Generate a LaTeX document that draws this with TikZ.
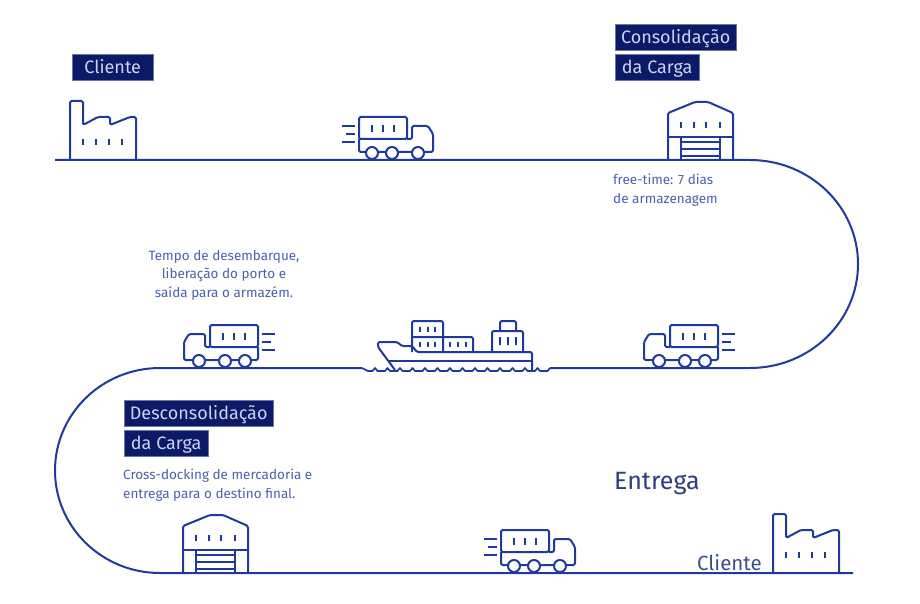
\documentclass[tikz,border=0pt]{standalone}
\usepackage{fontspec}
\setmainfont{Fira Sans}
\usetikzlibrary{calc}
\definecolor{trackblue}{HTML}{1F3A9C}
\definecolor{navybox}{HTML}{0B1A66}
\definecolor{boxtext}{HTML}{CCD4EC}
\definecolor{notetext}{HTML}{4C60AE}
\begin{document}
\begin{tikzpicture}[x=1pt,y=-1pt]
\tikzset{track/.style = {draw=trackblue,line width=2pt,line join=round}}
\tikzset{icon/.style = {draw=trackblue,line width=2pt,line join=round,rounded corners=1.5pt}}
\tikzset{tick/.style = {draw=trackblue,line width=1.8pt}}
\tikzset{tagbox/.style = {fill=navybox,draw=navybox!60,line width=.4pt,text=boxtext,font=\fontsize{18}{18}\selectfont,
  anchor=north west,inner sep=0pt,minimum height=26pt,align=center,text height=13pt,text depth=0pt}}
\tikzset{note/.style = {text=notetext,font=\fontsize{13.5}{18.5}\selectfont,inner sep=0pt}}
% icons, origin on the track at the lower left
\tikzset{factory/.pic = {
  \draw[icon] (0,0) -- (0,-59) -- (13,-59) -- (13,-35) -- (28,-43) -- (40,-43) -- (40,-35) -- (60,-43) -- (66,-43) -- (66,0);
  \foreach \tx in {13,26,39,52}
  \draw[tick] (\tx,-21) -- (\tx,-15);
}}
\tikzset{depot/.pic = {
  \draw[icon] (0,0) -- (0,-47) -- (27,-58) -- (40,-58) -- (65,-47) -- (65,0);
  \draw[tick] (0,-23) -- (65,-23);
  \draw[tick] (13,-23) -- (13,0);
  \draw[tick] (52,-23) -- (52,0);
  \foreach \sy in {-18,-11,-4}
  \draw[tick] (13,\sy) -- (52,\sy);
  \foreach \tx in {13,26,38,52}
  \draw[tick] (\tx,-38) -- (\tx,-32);
}}
\tikzset{truck/.pic = {
  \draw[icon] (0,-21) -- (0,-43) -- (48,-43) -- (48,-21) -- cycle;
  \draw[icon] (0,-21) -- (0,-8) -- (74,-8) -- (74,-26) -- (69,-34) -- (53,-34) -- (53,-21) -- (48,-21);
  \foreach \wx in {13,33,59}
  \draw[icon,fill=white] (\wx,-7) circle (6);
  \foreach \tx in {13,24,35}
  \draw[tick] (\tx,-35) -- (\tx,-28);
  \draw[tick] (-17,-34) -- (-4,-34);
  \draw[tick] (-13,-26) -- (-4,-26);
  \draw[tick] (-17,-18) -- (-4,-18);
}}
\useasboundingbox (0,0) rectangle (920,604);
% track
\coordinate (startA) at (55,160);
\coordinate (bendA) at (750,160);
\coordinate (waveR) at (550,368);
\coordinate (waveL) at (362,368);
\coordinate (bendB) at (160,368);
\coordinate (endB) at (853,573);
\draw[track] (startA) -- (bendA) arc (-90:90:108 and 104) -- (waveR);
\draw[track] (waveL) -- (bendB) arc (270:90:105 and 102.5) -- (endB);
% ship
\draw[icon] (412,352) -- (412,321) -- (443,321) -- (443,352);
\draw[icon] (412,337) -- (473,337) -- (473,352);
\draw[icon] (492,352) -- (492,331) -- (523,331) -- (523,352);
\draw[icon] (500,331) -- (500,321) -- (516,321) -- (516,331);
\draw[icon] (395,370) -- (378,347) -- (378,342) -- (397,342) -- (402,346) -- (412,346) -- (417,352) -- (532,352) -- (532,370);
\draw[tick] (388,361) -- (532,361);
\foreach \tx in {420,428,435}
\draw[tick] (\tx,327) -- (\tx,332);
\foreach \tx in {420,428,435,450,458,466}
\draw[tick] (\tx,342) -- (\tx,347);
\foreach \tx in {500,508,516}
\draw[tick] (\tx,337) -- (\tx,345);
\draw[track,line width=1.7pt] (waveL) to[out=0,in=180] ++(6,3) -- ++(4.5,0) \foreach \wi in {1,...,14} { to[out=0,in=180] ++(2.5,-3) to[out=0,in=180] ++(2.5,3) -- ++(7.5,0) } to[out=0,in=180] (waveR);
% pics
\pic at (70,160) {factory};
\pic at (773,573) {factory};
\pic at (668,160) {depot};
\pic at (183,573) {depot};
\pic at (359,160) {truck};
\pic at (501,573) {truck};
\pic[xscale=-1] at (258,368) {truck};
\pic[xscale=-1] at (718,368) {truck};
% labels
\node[tagbox,minimum width=81pt] (cliente) at (72,54) {Cliente};
\node[tagbox,minimum width=121pt] (consol) at (615,24) {Consolidação};
\node[tagbox,minimum width=84pt] (consolb) at (615,54) {da Carga};
\node[tagbox,minimum width=149pt] (descon) at (124,400) {Desconsolidação};
\node[tagbox,minimum width=84pt] (desconb) at (124,430) {da Carga};
\node[note,anchor=north west,align=left] (freetime) at (613,174) {free-time: 7 dias\\de armazenagem};
\node[note,anchor=north,align=center] (desemb) at (224,250) {Tempo de desembarque,\\liberação do porto e\\saída para o armazém.};
\node[note,anchor=north west,align=left] (cross) at (123,469) {Cross-docking de mercadoria e\\entrega para o destino final.};
\node[inner sep=0pt,anchor=west,text=navybox!85,font=\fontsize{25}{25}\selectfont] (entrega) at (614,484) {Entrega};
\node[inner sep=0pt,anchor=west,text=notetext!80!black,font=\fontsize{20.5}{20.5}\selectfont] (clientefim) at (697,563) {Cliente};
\end{tikzpicture}
\end{document}
